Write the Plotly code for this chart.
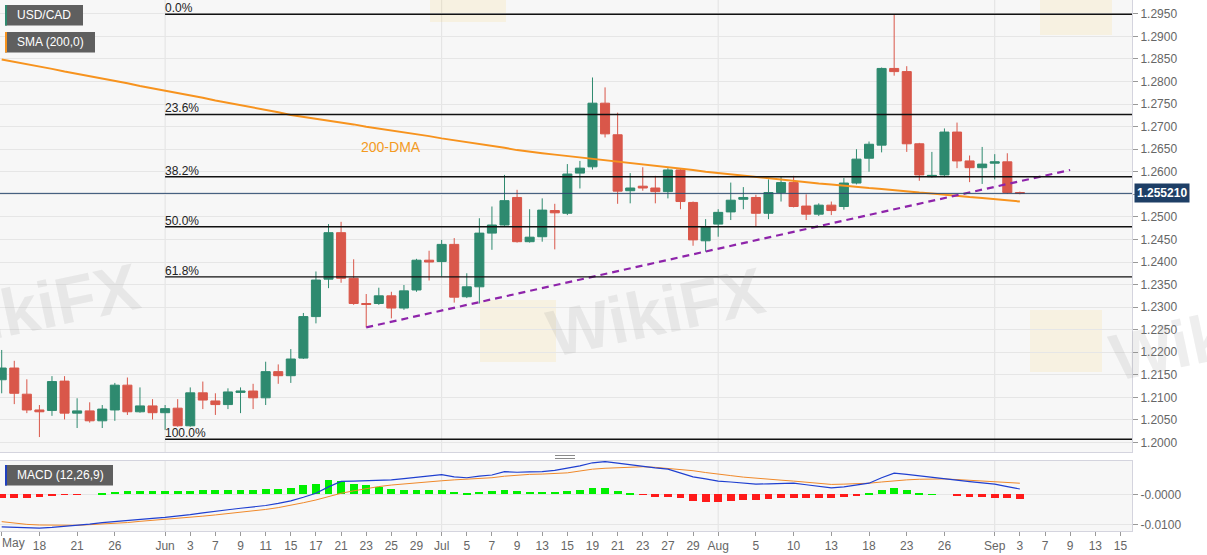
import pandas as pd
import plotly.graph_objects as go

### trading calendar used by the axis (weekends dropped, like the chart)
days = pd.bdate_range("2021-05-13", "2021-09-17")
candle_dates = pd.bdate_range("2021-05-13", "2021-09-03")
pos = {d.strftime("%Y-%m-%d"): i for i, d in enumerate(days)}
xs = [pos[d.strftime("%Y-%m-%d")] for d in candle_dates]

### USD/CAD daily candles
opens = [1.2139, 1.2165, 1.2107, 1.2072, 1.2071, 1.2136, 1.2065, 1.2070, 1.2048, 1.2072,
         1.2127, 1.2068, 1.2081, 1.2066, 1.2076, 1.2037, 1.2110, 1.2092, 1.2084, 1.2111,
         1.2114, 1.2099, 1.2157, 1.2148, 1.2187, 1.2279, 1.2362, 1.2465, 1.2364, 1.2308,
         1.2308, 1.2325, 1.2298, 1.2338, 1.2404, 1.2401, 1.2439, 1.2323, 1.2345, 1.2464,
         1.2482, 1.2543, 1.2445, 1.2456, 1.2514, 1.2508, 1.2597, 1.2611, 1.2752, 1.2682,
         1.2558, 1.2568, 1.2564, 1.2556, 1.2604, 1.2532, 1.2447, 1.2484, 1.2511, 1.2539,
         1.2543, 1.2508, 1.2554, 1.2576, 1.2524, 1.2506, 1.2526, 1.2523, 1.2575, 1.2630,
         1.2659, 1.2829, 1.2822, 1.2662, 1.2589, 1.2593, 1.2688, 1.2624, 1.2609, 1.2619,
         1.2622, 1.2554]
highs = [1.2205, 1.2181, 1.2140, 1.2083, 1.2147, 1.2147, 1.2098, 1.2089, 1.2083, 1.2132,
         1.2144, 1.2122, 1.2096, 1.2083, 1.2096, 1.2122, 1.2135, 1.2109, 1.2120, 1.2122,
         1.2130, 1.2179, 1.2173, 1.2207, 1.2287, 1.2379, 1.2484, 1.2489, 1.2406, 1.2329,
         1.2343, 1.2334, 1.2349, 1.2407, 1.2425, 1.2449, 1.2453, 1.2375, 1.2497, 1.2523,
         1.2593, 1.2560, 1.2517, 1.2541, 1.2529, 1.2617, 1.2624, 1.2809, 1.2787, 1.2731,
         1.2597, 1.2610, 1.2591, 1.2608, 1.2608, 1.2534, 1.2495, 1.2517, 1.2576, 1.2566,
         1.2549, 1.2583, 1.2589, 1.2591, 1.2550, 1.2530, 1.2534, 1.2586, 1.2650, 1.2667,
         1.2831, 1.2949, 1.2834, 1.2664, 1.2644, 1.2696, 1.2709, 1.2636, 1.2655, 1.2639,
         1.2641, 1.2556]
lows = [1.2109, 1.2085, 1.2065, 1.2012, 1.2059, 1.2051, 1.2032, 1.2044, 1.2032, 1.2048,
        1.2061, 1.2066, 1.2051, 1.2028, 1.2035, 1.2035, 1.2074, 1.2061, 1.2074, 1.2065,
        1.2074, 1.2083, 1.2130, 1.2132, 1.2185, 1.2264, 1.2342, 1.2354, 1.2305, 1.2255,
        1.2305, 1.2275, 1.2294, 1.2334, 1.2359, 1.2368, 1.2310, 1.2320, 1.2308, 1.2427,
        1.2480, 1.2443, 1.2443, 1.2445, 1.2428, 1.2504, 1.2563, 1.2605, 1.2676, 1.2529,
        1.2530, 1.2558, 1.2530, 1.2541, 1.2517, 1.2436, 1.2423, 1.2456, 1.2493, 1.2517,
        1.2478, 1.2495, 1.2534, 1.2521, 1.2493, 1.2502, 1.2504, 1.2516, 1.2572, 1.2600,
        1.2643, 1.2813, 1.2644, 1.2580, 1.2587, 1.2588, 1.2608, 1.2577, 1.2573, 1.2583,
        1.2551, 1.2550]
closes = [1.2165, 1.2109, 1.2072, 1.2068, 1.2135, 1.2065, 1.2070, 1.2048, 1.2074, 1.2127,
          1.2068, 1.2081, 1.2066, 1.2075, 1.2037, 1.2110, 1.2094, 1.2084, 1.2112, 1.2114,
          1.2099, 1.2157, 1.2148, 1.2185, 1.2279, 1.2360, 1.2465, 1.2364, 1.2308, 1.2306,
          1.2325, 1.2298, 1.2336, 1.2404, 1.2400, 1.2439, 1.2322, 1.2345, 1.2464, 1.2482,
          1.2536, 1.2445, 1.2455, 1.2515, 1.2509, 1.2595, 1.2608, 1.2752, 1.2684, 1.2557,
          1.2564, 1.2564, 1.2556, 1.2604, 1.2534, 1.2449, 1.2478, 1.2510, 1.2537, 1.2543,
          1.2508, 1.2554, 1.2576, 1.2523, 1.2506, 1.2526, 1.2514, 1.2575, 1.2628, 1.2661,
          1.2829, 1.2822, 1.2662, 1.2593, 1.2592, 1.2688, 1.2624, 1.2609, 1.2617, 1.2622,
          1.2554, 1.2552]

### SMA(200)
sma200 = [1.2849, 1.2844, 1.2838, 1.2833, 1.2828, 1.2822, 1.2817, 1.2812, 1.2806, 1.2801,
          1.2796, 1.2790, 1.2785, 1.2780, 1.2774, 1.2769, 1.2764, 1.2758, 1.2753, 1.2748,
          1.2742, 1.2737, 1.2732, 1.2726, 1.2722, 1.2718, 1.2713, 1.2709, 1.2705, 1.2700,
          1.2696, 1.2692, 1.2687, 1.2683, 1.2679, 1.2674, 1.2670, 1.2666, 1.2661, 1.2657,
          1.2653, 1.2648, 1.2644, 1.2641, 1.2638, 1.2635, 1.2632, 1.2628, 1.2625, 1.2622,
          1.2619, 1.2616, 1.2613, 1.2610, 1.2607, 1.2604, 1.2600, 1.2597, 1.2594, 1.2591,
          1.2588, 1.2585, 1.2582, 1.2579, 1.2577, 1.2574, 1.2572, 1.2569, 1.2567, 1.2564,
          1.2562, 1.2559, 1.2557, 1.2554, 1.2552, 1.2549, 1.2547, 1.2544, 1.2542, 1.2539,
          1.2537, 1.2534]

### MACD (12,26,9)
macd = [-0.0106, -0.0108, -0.0109, -0.0110, -0.0108, -0.0105, -0.0101, -0.0097, -0.0092, -0.0088,
        -0.0085, -0.0082, -0.0078, -0.0075, -0.0071, -0.0066, -0.0060, -0.0054, -0.0050, -0.0045,
        -0.0041, -0.0036, -0.0029, -0.0021, -0.0009, 0.0004, 0.0025, 0.0043, 0.0044, 0.0045,
        0.0046, 0.0048, 0.0052, 0.0056, 0.0061, 0.0065, 0.0058, 0.0055, 0.0060, 0.0064,
        0.0075, 0.0073, 0.0074, 0.0075, 0.0079, 0.0086, 0.0094, 0.0104, 0.0108, 0.0103,
        0.0097, 0.0091, 0.0087, 0.0083, 0.0071, 0.0058, 0.0051, 0.0044, 0.0041, 0.0037,
        0.0034, 0.0035, 0.0036, 0.0037, 0.0032, 0.0027, 0.0022, 0.0025, 0.0030, 0.0037,
        0.0055, 0.0070, 0.0066, 0.0061, 0.0055, 0.0050, 0.0046, 0.0042, 0.0038, 0.0034,
        0.0026, 0.0018]
signal = [-0.0089, -0.0094, -0.0098, -0.0100, -0.0101, -0.0101, -0.0101, -0.0099, -0.0097, -0.0095,
          -0.0092, -0.0088, -0.0085, -0.0081, -0.0078, -0.0074, -0.0071, -0.0067, -0.0063, -0.0058,
          -0.0054, -0.0049, -0.0043, -0.0036, -0.0027, -0.0018, -0.0007, 0.0004, 0.0012, 0.0020,
          0.0026, 0.0031, 0.0035, 0.0039, 0.0042, 0.0045, 0.0048, 0.0050, 0.0052, 0.0055,
          0.0060, 0.0064, 0.0066, 0.0067, 0.0069, 0.0071, 0.0077, 0.0083, 0.0086, 0.0088,
          0.0090, 0.0091, 0.0089, 0.0086, 0.0083, 0.0078, 0.0072, 0.0066, 0.0062, 0.0057,
          0.0053, 0.0050, 0.0047, 0.0044, 0.0040, 0.0037, 0.0033, 0.0034, 0.0035, 0.0037,
          0.0041, 0.0045, 0.0048, 0.0050, 0.0051, 0.0051, 0.0049, 0.0047, 0.0045, 0.0042,
          0.0040, 0.0037]
hist = [-0.0012, -0.0011, -0.0010, -0.0009, -0.0003, -0.0001, -0.0001, 0.0000, 0.0002, 0.0009,
        0.0011, 0.0011, 0.0011, 0.0012, 0.0012, 0.0013, 0.0014, 0.0014, 0.0014, 0.0015,
        0.0016, 0.0017, 0.0019, 0.0022, 0.0030, 0.0036, 0.0046, 0.0044, 0.0036, 0.0031,
        0.0024, 0.0019, 0.0014, 0.0014, 0.0015, 0.0015, 0.0008, 0.0004, 0.0008, 0.0011,
        0.0014, 0.0011, 0.0009, 0.0008, 0.0008, 0.0011, 0.0014, 0.0022, 0.0022, 0.0011,
        0.0003, -0.0001, -0.0007, -0.0007, -0.0011, -0.0020, -0.0024, -0.0024, -0.0022, -0.0017,
        -0.0017, -0.0014, -0.0012, -0.0012, -0.0012, -0.0012, -0.0012, -0.0009, -0.0002, 0.0003,
        0.0014, 0.0022, 0.0014, 0.0005, 0.0001, 0.0000, -0.0003, -0.0007, -0.0009, -0.0010,
        -0.0013, -0.0016]

### Fibonacci retracement of the May-Aug move
fib_start = "2021-06-01"
fib_levels = [1.2949, 1.2727, 1.2589, 1.2478, 1.2367, 1.2007]
fib_labels = ["0.0%", "23.6%", "38.2%", "50.0%", "61.8%", "100.0%"]

### support line from the late-June low
trend_dates = ["2021-06-23", "2021-09-09"]
trend_vals = [1.2255, 1.2604]

last_price = 1.255210
month_starts = ["2021-06-01", "2021-07-01", "2021-08-02", "2021-09-01"]

tick_dates = ["2021-05-13", "2021-05-18", "2021-05-21", "2021-05-26", "2021-06-01", "2021-06-03",
              "2021-06-07", "2021-06-09", "2021-06-11", "2021-06-15", "2021-06-17", "2021-06-21",
              "2021-06-23", "2021-06-25", "2021-06-29", "2021-07-01", "2021-07-05", "2021-07-07",
              "2021-07-09", "2021-07-13", "2021-07-15", "2021-07-19", "2021-07-21", "2021-07-23",
              "2021-07-27", "2021-07-29", "2021-08-02", "2021-08-05", "2021-08-10", "2021-08-13",
              "2021-08-18", "2021-08-23", "2021-08-26", "2021-09-01", "2021-09-03", "2021-09-07",
              "2021-09-09", "2021-09-13", "2021-09-15"]
tick_text = ["", "18", "21", "26", "Jun", "3", "7", "9", "11", "15", "17", "21", "23", "25", "29",
             "Jul", "5", "7", "9", "13", "15", "19", "21", "23", "27", "29", "Aug", "5", "10", "13",
             "18", "23", "26", "Sep", "3", "7", "9", "13", "15"]
price_ticks = [1.2000, 1.2050, 1.2100, 1.2150, 1.2200, 1.2250, 1.2300, 1.2350, 1.2400, 1.2450,
               1.2500, 1.2550, 1.2600, 1.2650, 1.2700, 1.2750, 1.2800, 1.2850, 1.2900, 1.2950]
# 1.2550 sits under the last-price tag, so its label is hidden
price_text = ["" if abs(p - 1.2550) < 1e-9 else "%.4f" % p for p in price_ticks]

### colours
up_col = "#2e8a6f"
dn_col = "#d9574a"
sma_col = "#f7931e"
border = "#d4d4de"
grid = "#e6e6e6"
FONT = "Arial, Liberation Sans, sans-serif"

# axis windows
x_lo, x_hi = -0.135, 89.92
y_lo, y_hi = 1.19789, 1.29807
m_lo, m_hi = -0.01197, 0.01098

W_PLOT, H_PLOT = 1132, 531
def px_x(p):
    return p / W_PLOT
def px_y(p):
    return (H_PLOT - p) / H_PLOT

fig = go.Figure()
fig.add_trace(go.Candlestick(x=xs, open=opens, high=highs, low=lows, close=closes,
                             increasing=dict(line=dict(color=up_col, width=1), fillcolor=up_col),
                             decreasing=dict(line=dict(color=dn_col, width=1), fillcolor=dn_col),
                             whiskerwidth=0, showlegend=False, hoverinfo="skip",
                             xaxis="x", yaxis="y"))
fig.add_trace(go.Scatter(x=xs, y=sma200, mode="lines", line=dict(color=sma_col, width=2),
                         showlegend=False, xaxis="x", yaxis="y"))
fig.add_trace(go.Scatter(x=[pos[d] for d in trend_dates], y=trend_vals, mode="lines",
                         line=dict(color="#8e24aa", width=2.2, dash="7px,5px"),
                         showlegend=False, xaxis="x", yaxis="y"))
fig.add_trace(go.Scatter(x=[x_lo, x_hi], y=[last_price, last_price], mode="lines",
                         line=dict(color="#2b4a6f", width=1), showlegend=False,
                         xaxis="x", yaxis="y"))

# MACD panel
hist_cols = ["#00f000" if h >= 0 else "#ff1a1a" for h in hist]
fig.add_trace(go.Bar(x=xs, y=hist, marker=dict(color=hist_cols, line=dict(width=0)),
                     width=0.62, showlegend=False, xaxis="x2", yaxis="y2"))
fig.add_trace(go.Scatter(x=xs, y=signal, mode="lines", line=dict(color="#f0892a", width=1),
                         showlegend=False, xaxis="x2", yaxis="y2"))
fig.add_trace(go.Scatter(x=xs, y=macd, mode="lines", line=dict(color="#1f3fd0", width=1.2),
                         showlegend=False, xaxis="x2", yaxis="y2"))

shapes = []
for lvl in fib_levels:
    shapes.append(dict(type="line", xref="x", yref="y", x0=pos[fib_start], x1=x_hi,
                       y0=lvl, y1=lvl, line=dict(color="#111111", width=1.4)))
for m in month_starts:
    for yr in ["y domain", "y2 domain"]:
        shapes.append(dict(type="line", xref="x", yref=yr, x0=pos[m], x1=pos[m], y0=0, y1=1,
                           layer="below", line=dict(color="#e2e2e2", width=1)))

# watermark logos (faint)
for (a, b, c, d) in [(480, 300, 556, 362), (1030, 310, 1102, 372), (430, -30, 506, 22), (1040, -25, 1112, 35)]:
    shapes.append(dict(type="rect", xref="paper", yref="paper", x0=px_x(a), x1=px_x(c),
                       y0=px_y(d), y1=px_y(b), layer="below", line=dict(width=0),
                       fillcolor="rgba(245,200,80,0.13)"))

# label boxes
for (x1, y0, y1, stripe) in [(83, 5, 25.5, up_col), (95, 32, 52.5, sma_col), (113, 465, 485.5, "#1f3fbf")]:
    shapes.append(dict(type="rect", xref="paper", yref="paper", x0=px_x(5), x1=px_x(x1),
                       y0=px_y(y1), y1=px_y(y0), line=dict(width=0), fillcolor="#5f5f5f"))
    shapes.append(dict(type="rect", xref="paper", yref="paper", x0=px_x(5), x1=px_x(7),
                       y0=px_y(y1), y1=px_y(y0), line=dict(width=0), fillcolor=stripe))

# panel separator grip
for yy in [455.5, 458.5]:
    shapes.append(dict(type="line", xref="paper", yref="paper", x0=px_x(555), x1=px_x(575),
                       y0=px_y(yy), y1=px_y(yy), line=dict(color="#8a8a8a", width=1)))

annotations = []
for lvl, lab in zip(fib_levels, fib_labels):
    annotations.append(dict(x=pos[fib_start], y=lvl, xref="x", yref="y", text=lab,
                            showarrow=False, xanchor="left", yanchor="bottom",
                            xshift=-2, yshift=-3,
                            font=dict(family=FONT, size=12, color="#222222")))
annotations.append(dict(x=pos["2021-06-25"], y=1.2654, xref="x", yref="y", text="200-DMA",
                        showarrow=False, font=dict(family=FONT, size=14, color="#f39a1f")))
for txt, yc in [("USD/CAD", 15.3), ("SMA (200,0)", 42.3), ("MACD (12,26,9)", 475.3)]:
    annotations.append(dict(x=px_x(15), y=px_y(yc), xref="paper", yref="paper", text=txt,
                            showarrow=False, xanchor="left", yanchor="middle",
                            font=dict(family=FONT, size=12, color="white")))
annotations.append(dict(x=1, y=last_price, xref="paper", yref="y", text="<b>1.255210</b>",
                        showarrow=False, xanchor="left", xshift=2, bgcolor="#1e3f66",
                        borderpad=2, font=dict(family=FONT, size=12, color="white")))
annotations.append(dict(x=0, y=0, xref="paper", yref="paper", text="May", showarrow=False,
                        xanchor="left", yanchor="top", yshift=-3,
                        font=dict(family=FONT, size=12, color="#666666")))
for txt, cx, cy in [("WikiFX", 30, 308), ("WikiFX", 655, 312), ("WikiFX", 1218, 336)]:
    annotations.append(dict(x=px_x(cx), y=px_y(cy), xref="paper", yref="paper", text="<b>" + txt + "</b>",
                            showarrow=False, textangle=-12, xanchor="center", yanchor="middle",
                            font=dict(family=FONT, size=66, color="rgba(150,150,150,0.16)")))

fig.update_layout(
    width=1207, height=555,
    margin=dict(l=0, r=75, t=0, b=24),
    paper_bgcolor="white", plot_bgcolor="#f7f7f7",
    font=dict(family=FONT, size=12, color="#666666"),
    boxgap=0.28, boxgroupgap=0, bargap=0,
    showlegend=False,
    shapes=shapes, annotations=annotations,
    xaxis=dict(domain=[0, 1], range=[x_lo, x_hi], anchor="y", showticklabels=False,
               showgrid=False, zeroline=False, ticks="", rangeslider=dict(visible=False),
               showline=True, mirror=True, linecolor=border),
    xaxis2=dict(domain=[0, 1], range=[x_lo, x_hi], anchor="y2", matches="x",
                tickvals=[pos[d] for d in tick_dates], ticktext=tick_text,
                ticks="outside", ticklen=4, tickcolor="#999999", showgrid=False, zeroline=False,
                showline=True, mirror=True, linecolor=border,
                tickfont=dict(family=FONT, size=12, color="#666666")),
    yaxis=dict(domain=[0.1488, 1], range=[y_lo, y_hi], anchor="x", side="right",
               tickvals=price_ticks, ticktext=price_text, ticks="outside", ticklen=5,
               tickcolor="#999999", showgrid=True, gridcolor=grid, zeroline=False,
               showline=True, mirror=True, linecolor=border,
               tickfont=dict(family=FONT, size=12, color="#666666")),
    yaxis2=dict(domain=[0, 0.1318], range=[m_lo, m_hi], anchor="x2", side="right",
                tickvals=[0, -0.01], ticktext=["-0.0000", "-0.0100"], ticks="outside",
                ticklen=5, tickcolor="#999999", showgrid=True, gridcolor=grid, zeroline=False,
                showline=True, mirror=True, linecolor=border,
                tickfont=dict(family=FONT, size=12, color="#666666")),
)

# page margin off so the figure sits at the window's top-left corner
fig.write_html("out.html", config={"displayModeBar": False},
               post_script="document.body.style.margin='0';")
